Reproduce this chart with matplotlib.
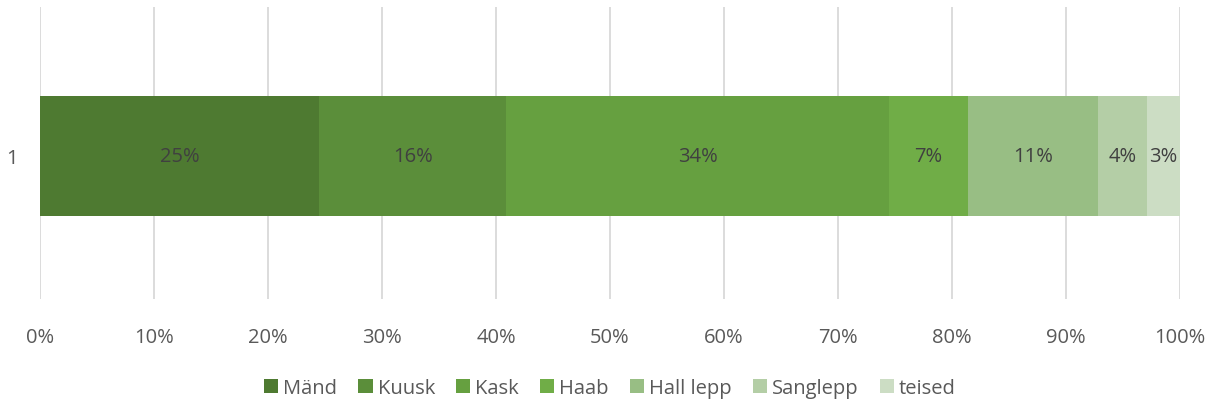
import matplotlib.pyplot as plt
import numpy as np
from matplotlib.ticker import PercentFormatter

plt.rcParams['font.family'] = ['Open Sans', 'DejaVu Sans']

species = ['Mänd', 'Kuusk', 'Kask', 'Haab', 'Hall lepp', 'Sanglepp', 'teised']
shares = [24.5, 16.4, 33.6, 6.9, 11.4, 4.3, 2.9]
labels = ['25%', '16%', '34%', '7%', '11%', '4%', '3%']
colors = ['#4E7A31', '#5B8E3A', '#66A040', '#70AD47', '#98BE84', '#B4CEA6', '#CCDDC4']
category = ['1']

fig = plt.figure(figsize=(12.15, 4.06), dpi=100)
ax = fig.add_axes([0.033, 0.261, 0.938, 0.719])

left = 0
for name, val, lab, col in zip(species, shares, labels, colors):
    ax.barh(category, val, left=left, height=0.41, color=col, label=name, zorder=2)
    ax.text(left + val / 2, 0, lab, ha='center', va='center', fontsize=14.5, color='#404040', zorder=3)
    left += val

ax.set_xlim(0, 100)
ax.set_ylim(-0.49, 0.51)
ax.set_xticks(np.arange(0, 101, 10))
ax.xaxis.set_major_formatter(PercentFormatter(decimals=0))
ax.grid(axis='x', color='#D9D9D9', lw=1.3, zorder=0)
for s in ax.spines.values():
    s.set_visible(False)
ax.tick_params(axis='both', length=0, labelsize=14.5, labelcolor='#595959')
ax.tick_params(axis='x', pad=20)
ax.tick_params(axis='y', pad=16)

ax.legend(loc='center', bbox_to_anchor=(0.5, -0.305), ncol=7, frameon=False, fontsize=14.5,
          handlelength=0.7, handleheight=0.7, handletextpad=0.25, columnspacing=1.05,
          labelcolor='#595959')

fig.savefig('out.png')
